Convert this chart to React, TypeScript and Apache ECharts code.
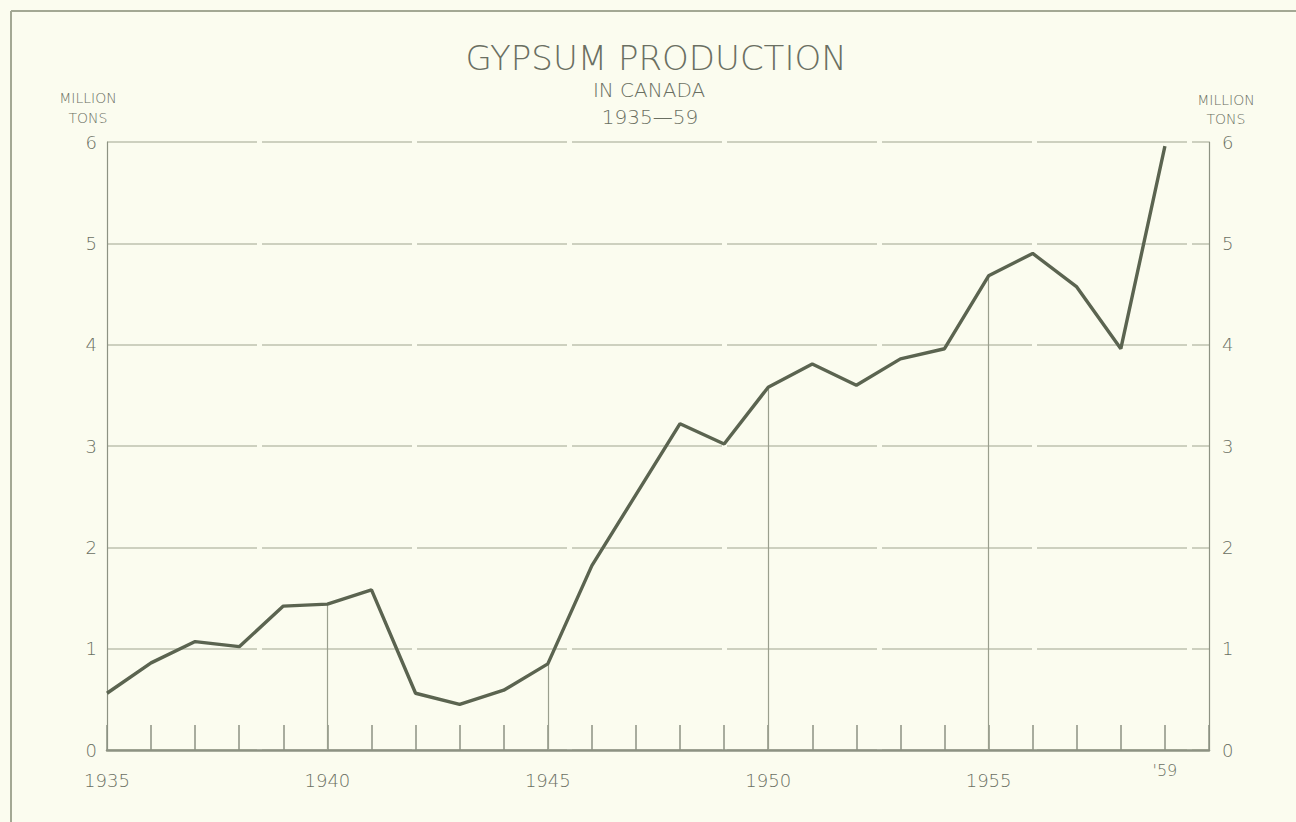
import React, { useEffect, useRef } from "react";
import * as echarts from "echarts";

const YEARS = [1935, 1936, 1937, 1938, 1939, 1940, 1941, 1942, 1943, 1944, 1945, 1946, 1947, 1948, 1949, 1950, 1951, 1952, 1953, 1954, 1955, 1956, 1957, 1958, 1959];
const PRODUCTION = [0.56, 0.86, 1.07, 1.02, 1.42, 1.44, 1.58, 0.56, 0.45, 0.59, 0.85, 1.82, 2.52, 3.22, 3.02, 3.58, 3.81, 3.6, 3.86, 3.96, 4.68, 4.9, 4.57, 3.96, 5.96];
const DROP_YEARS = [1940, 1945, 1950, 1955];
const TITLE = "GYPSUM PRODUCTION";
const SUBTITLE_1 = "IN CANADA";
const SUBTITLE_2 = "1935\u201459";
const UNIT_LINE_1 = "MILLION";
const UNIT_LINE_2 = "TONS";

const FONT = "DejaVu Sans";
const TEXT = "#6a6f62";
const GRID = "#cdd0bf";
const AXIS = "#8d9283";
const LINE = "#5b6450";
const BG = "#fbfcef";

export default function App() {
  const ref = useRef<HTMLDivElement>(null);
  useEffect(() => {
    document.body.style.margin = "0";
    const chart = echarts.init(ref.current!, null, { renderer: "svg" });
    const data = YEARS.map((y, i) => [y, PRODUCTION[i]]);
    const drops = DROP_YEARS.map((y) => {
      const v = PRODUCTION[YEARS.indexOf(y)];
      return [{ coord: [y, 0] }, { coord: [y, v] }];
    });
    const unitStyle = { fontFamily: FONT, fontSize: 14, color: TEXT, fontWeight: 300, lineHeight: 15 };
    chart.setOption({
      animation: false,
      backgroundColor: BG,
      title: [
        { text: TITLE, left: 651, top: 36, textAlign: "center", textStyle: { fontFamily: FONT, fontSize: 34, fontWeight: 300, color: TEXT } },
        { text: SUBTITLE_1, left: 644, top: 75, textAlign: "center", textStyle: { fontFamily: FONT, fontSize: 20, fontWeight: 300, color: TEXT } },
        { text: SUBTITLE_2, left: 645, top: 102, textAlign: "center", textStyle: { fontFamily: FONT, fontSize: 20, fontWeight: 300, color: TEXT } },
        { text: UNIT_LINE_1, left: 88, top: 90, textAlign: "center", padding: 0, textStyle: unitStyle },
        { text: UNIT_LINE_2, left: 88, top: 110, textAlign: "center", padding: 0, textStyle: unitStyle },
        { text: UNIT_LINE_1, left: 1226, top: 92, textAlign: "center", padding: 0, textStyle: unitStyle },
        { text: UNIT_LINE_2, left: 1226, top: 111, textAlign: "center", padding: 0, textStyle: unitStyle },
      ],
      graphic: [
        { type: "line", shape: { x1: 11, y1: 11, x2: 1296, y2: 11 }, style: { stroke: "#a3a894", lineWidth: 2 } },
        { type: "line", shape: { x1: 11, y1: 11, x2: 11, y2: 822 }, style: { stroke: "#a3a894", lineWidth: 2 } },
      ],
      grid: { left: 107, right: 87, top: 142, bottom: 72 },
      xAxis: {
        type: "value",
        min: 1935,
        max: 1960,
        interval: 1,
        axisLine: { show: true, lineStyle: { color: AXIS, width: 2.5 } },
        axisTick: { show: true, inside: true, length: 25, lineStyle: { color: AXIS, width: 1.5 } },
        splitLine: { show: false },
        axisLabel: {
          margin: 4,
          formatter: (v: number) => {
            if (v === 1959) return "{b|'59}";
            if (v % 5 === 0 && v < 1960) return "{n|" + v + "}";
            return "";
          },
          rich: {
            n: { fontFamily: FONT, fontSize: 18, fontWeight: 300, color: TEXT, padding: [17, 0, 0, 0] },
            b: { fontFamily: FONT, fontSize: 16, fontWeight: 300, color: TEXT, padding: [8, 0, 0, 0] },
          },
        },
      },
      yAxis: [
        {
          type: "value",
          min: 0,
          max: 6,
          interval: 1,
          axisLine: { show: true, lineStyle: { color: AXIS, width: 1.2 } },
          axisTick: { show: false },
          splitLine: { show: true, lineStyle: { color: GRID, width: 1.8, type: [150, 5] } },
          axisLabel: { margin: 10, fontFamily: FONT, fontSize: 18, fontWeight: 300, color: TEXT },
        },
        {
          type: "value",
          min: 0,
          max: 6,
          interval: 1,
          position: "right",
          axisLine: { show: true, lineStyle: { color: AXIS, width: 1.2 } },
          axisTick: { show: false },
          splitLine: { show: false },
          axisLabel: { margin: 13, fontFamily: FONT, fontSize: 18, fontWeight: 300, color: TEXT },
        },
      ],
      series: [
        {
          type: "line",
          data,
          symbol: "none",
          lineStyle: { color: LINE, width: 3.4 },
          z: 5,
          markLine: {
            silent: true,
            symbol: "none",
            label: { show: false },
            lineStyle: { color: "#9a9f8e", width: 1.2, type: "solid" },
            data: drops,
          },
        },
      ],
    });
    return () => chart.dispose();
  }, []);
  return <div ref={ref} style={{ width: 1296, height: 822 }} />;
}
